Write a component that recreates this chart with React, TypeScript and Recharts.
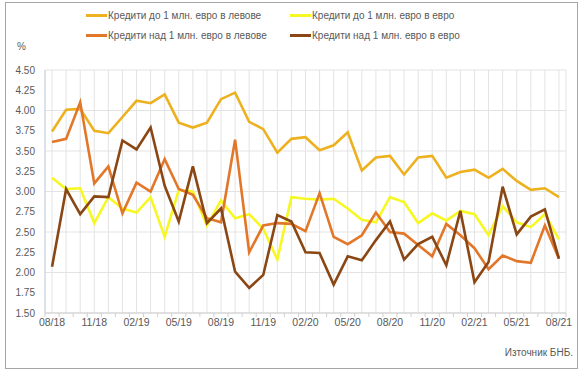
import React from 'react';
import { LineChart, Line, XAxis, YAxis, CartesianGrid } from 'recharts';

// monthly, 08/18 .. 08/21
const months = [
  '08/18', '09/18', '10/18', '11/18', '12/18', '01/19', '02/19', '03/19', '04/19', '05/19',
  '06/19', '07/19', '08/19', '09/19', '10/19', '11/19', '12/19', '01/20', '02/20', '03/20',
  '04/20', '05/20', '06/20', '07/20', '08/20', '09/20', '10/20', '11/20', '12/20', '01/21',
  '02/21', '03/21', '04/21', '05/21', '06/21', '07/21', '08/21'
];

const levUnder1m = [3.74, 4.01, 4.02, 3.75, 3.72, 3.92, 4.12, 4.09, 4.2, 3.85, 3.79, 3.85, 4.14, 4.22, 3.86, 3.77, 3.48, 3.65, 3.67, 3.51, 3.57, 3.73, 3.26, 3.42, 3.44, 3.21, 3.42, 3.44, 3.17, 3.24, 3.27, 3.17, 3.28, 3.13, 3.02, 3.04, 2.93];
const eurUnder1m = [3.17, 3.03, 3.04, 2.61, 2.93, 2.79, 2.74, 2.93, 2.44, 3.02, 3.0, 2.58, 2.89, 2.67, 2.72, 2.54, 2.16, 2.93, 2.91, 2.9, 2.91, 2.79, 2.65, 2.62, 2.93, 2.87, 2.61, 2.73, 2.64, 2.76, 2.72, 2.46, 2.82, 2.62, 2.56, 2.72, 2.41];
const levOver1m = [3.61, 3.65, 4.1, 3.1, 3.31, 2.73, 3.11, 3.0, 3.4, 3.03, 2.96, 2.67, 2.62, 3.64, 2.25, 2.58, 2.61, 2.6, 2.51, 2.98, 2.44, 2.35, 2.46, 2.74, 2.5, 2.48, 2.34, 2.2, 2.6, 2.46, 2.3, 2.04, 2.21, 2.14, 2.12, 2.58, 2.17];
const eurOver1m = [2.07, 3.03, 2.72, 2.94, 2.93, 3.63, 3.52, 3.79, 3.07, 2.63, 3.31, 2.61, 2.79, 2.01, 1.81, 1.97, 2.71, 2.63, 2.25, 2.24, 1.85, 2.2, 2.15, 2.4, 2.63, 2.16, 2.35, 2.44, 2.09, 2.76, 1.88, 2.13, 3.06, 2.47, 2.69, 2.78, 2.17];

const yTicks = [1.5, 1.75, 2.0, 2.25, 2.5, 2.75, 3.0, 3.25, 3.5, 3.75, 4.0, 4.25, 4.5];

const series = [
  { key: 'levUnder', name: 'Кредити до 1 млн. евро в левове', color: '#EDB11F' },
  { key: 'eurUnder', name: 'Кредити до 1 млн. евро в евро', color: '#F7F724' },
  { key: 'levOver', name: 'Кредити над 1 млн. евро в левове', color: '#E2772A' },
  { key: 'eurOver', name: 'Кредити над 1 млн. евро в евро', color: '#8A4613' }
];

const data = months.map((m, i) => ({
  idx: i,
  month: m,
  levUnder: levUnder1m[i],
  eurUnder: eurUnder1m[i],
  levOver: levOver1m[i],
  eurOver: eurOver1m[i]
}));

const W = 581;
const H = 372;
const PLOT_LEFT = 45;
const PLOT_RIGHT = 566;
const STEP = (PLOT_RIGHT - PLOT_LEFT) / months.length;
const FONT = '"Liberation Sans", Arial, sans-serif';
const TEXT = '#595959';

// label every 3rd month, small tick marks between categories
const XTick = ({ x, y, payload }: any) => {
  const i = payload.value;
  return (
    <g>
      <line x1={x - STEP / 2} x2={x - STEP / 2} y1={y} y2={y + 4} stroke="#cfcfcf" />
      {i === months.length - 1 && (
        <line x1={x + STEP / 2} x2={x + STEP / 2} y1={y} y2={y + 4} stroke="#cfcfcf" />
      )}
      {i % 3 === 0 && (
        <text x={x} y={y + 13} textAnchor="middle" fontSize={10.5} fill={TEXT} fontFamily={FONT}>
          {months[i]}
        </text>
      )}
    </g>
  );
};

const LegendBox = () => (
  <div style={{ position: 'absolute', left: 0, top: 6, width: W, height: 44, fontFamily: FONT, fontSize: 10, color: TEXT }}>
    {series.map((s, i) => (
      <div
        key={s.key}
        style={{
          position: 'absolute',
          left: i % 2 === 0 ? 86 : 290,
          top: i < 2 ? 4 : 24,
          display: 'flex',
          alignItems: 'center',
          whiteSpace: 'nowrap'
        }}
      >
        <span style={{ display: 'inline-block', width: 21, height: 3, background: s.color, marginRight: 1 }} />
        {s.name}
      </div>
    ))}
  </div>
);

export default function App() {
  return (
    <div style={{ position: 'absolute', left: 0, top: 0, width: W, height: H, background: '#fff' }}>
      <div
        style={{
          position: 'absolute',
          left: 5,
          top: 2,
          width: 571,
          height: 365,
          border: '1px solid #a6a6a6'
        }}
      />
      <LineChart
        width={W}
        height={H}
        data={data}
        margin={{ top: 70, right: W - PLOT_RIGHT, bottom: 29, left: 5 }}
      >
        <CartesianGrid stroke="#e3e3e3" />
        <XAxis
          dataKey="idx"
          type="number"
          domain={[-0.5, months.length - 0.5]}
          ticks={months.map((_, i) => i)}
          interval={0}
          height={30}
          tickSize={0}
          tickMargin={0}
          tickLine={false}
          axisLine={{ stroke: '#cfcfcf' }}
          tick={<XTick />}
        />
        <YAxis
          domain={[1.5, 4.5]}
          ticks={yTicks}
          width={40}
          tickSize={0}
          tickMargin={10}
          tickLine={false}
          axisLine={{ stroke: '#c9d1df' }}
          tickFormatter={(v: number) => v.toFixed(2)}
          tick={{ fontSize: 10, fill: TEXT, fontFamily: FONT }}
        />
        {series.map((s) => (
          <Line
            key={s.key}
            type="linear"
            dataKey={s.key}
            name={s.name}
            stroke={s.color}
            strokeWidth={2.6}
            dot={false}
            activeDot={false}
            isAnimationActive={false}
          />
        ))}
      </LineChart>
      <LegendBox />
      <div style={{ position: 'absolute', left: 17, top: 41, fontFamily: FONT, fontSize: 10, color: TEXT }}>%</div>
      <div
        style={{
          position: 'absolute',
          right: 8,
          top: 347,
          fontFamily: FONT,
          fontSize: 10,
          color: TEXT
        }}
      >
        Източник БНБ.
      </div>
    </div>
  );
}
